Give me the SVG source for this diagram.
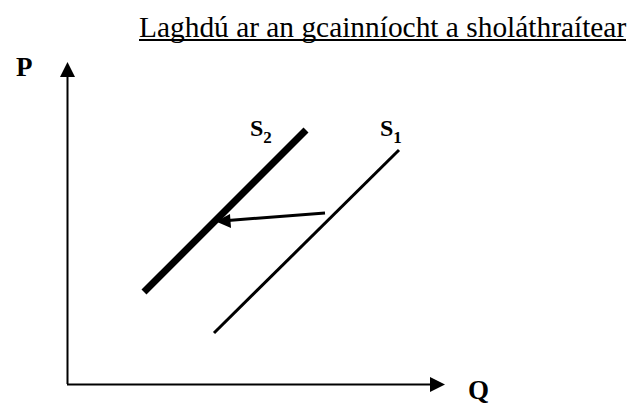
<svg xmlns="http://www.w3.org/2000/svg" width="643" height="405" viewBox="0 0 643 405">
<style>
text{font-family:'Liberation Serif','Times New Roman',Times,serif;fill:#000}
.b{font-weight:bold}
.ax{stroke:#000;stroke-width:2;fill:none}
</style>
<rect width="643" height="405" fill="#fff"/>
<g id="title">
<text x="139" y="37" font-size="29.4">Laghdú ar an gcainníocht a sholáthraítear</text>
<line x1="139" y1="40" x2="626" y2="40" stroke="#000" stroke-width="2"/>
</g>
<g id="axes">
<line class="ax" x1="67.5" y1="384" x2="67.5" y2="75"/>
<polygon points="60,77 75,77 67.5,62" fill="#000"/>
<line class="ax" x1="67" y1="384.5" x2="432" y2="384.5"/>
<polygon points="430,377 430,392 445,384.5" fill="#000"/>
</g>
<g id="labelP"><text class="b" x="16" y="76" font-size="27">P</text></g>
<g id="labelQ"><text class="b" x="468" y="399" font-size="27">Q</text></g>
<g id="S2">
<line x1="144" y1="292" x2="306" y2="130" stroke="#000" stroke-width="7"/>
<text class="b" x="250" y="136" font-size="24">S<tspan font-size="17" dy="7">2</tspan></text>
</g>
<g id="S1">
<line x1="214" y1="333" x2="399" y2="150" stroke="#000" stroke-width="3"/>
<text class="b" x="380" y="136" font-size="24">S<tspan font-size="17" dy="7">1</tspan></text>
</g>
<g id="connectors">
<line x1="325" y1="213" x2="228" y2="220.5" stroke="#000" stroke-width="3"/>
<polygon points="216,221.5 230,214 231,228" fill="#000"/>
</g>
</svg>
